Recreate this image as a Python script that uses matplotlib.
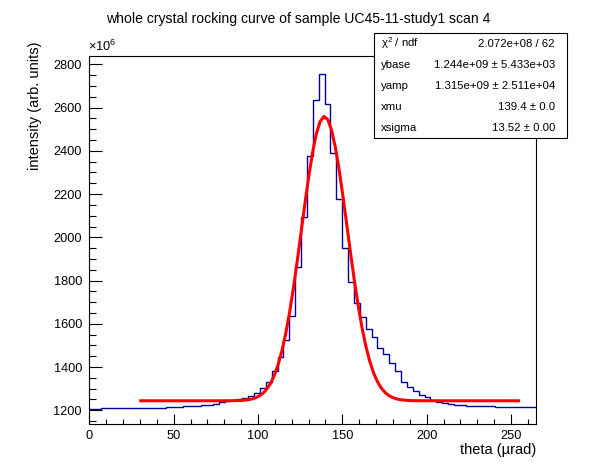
import numpy as np
import matplotlib
matplotlib.use("Agg")
import matplotlib.pyplot as plt
from matplotlib.patches import Rectangle

plt.rcParams['font.family'] = ['Liberation Sans', 'DejaVu Sans']
plt.rcParams['mathtext.fontset'] = 'custom'
plt.rcParams['mathtext.rm'] = 'Liberation Sans'

# histogram: 76 bins from 0 to ~265 urad, contents in units of 1e6
x_lo, x_hi, n_bins = 0.0, 265.0, 76
counts = [1206, 1206,
          1212, 1212, 1212, 1212, 1212, 1212, 1212, 1212, 1212, 1212, 1212,
          1217, 1217, 1217, 1221, 1221, 1221, 1226, 1226,
          1231, 1237, 1242, 1248, 1250, 1258, 1268, 1279, 1302, 1329,
          1380, 1445, 1524, 1637, 1861, 2093, 2375, 2637, 2754, 2617,
          2392, 2176, 1949, 1795, 1695, 1630, 1575, 1540, 1487, 1460,
          1417, 1380, 1332, 1308, 1288, 1269, 1260, 1248, 1238, 1232,
          1228, 1226, 1223,
          1219, 1219, 1219, 1219, 1219,
          1214, 1214, 1214, 1214, 1214, 1214, 1214]

# fit results (from the stats box)
ybase = 1.244e9
yamp = 1.315e9
xmu = 139.4
xsigma = 13.52
fit_lo, fit_hi = 30.5, 254.5

stat_names = [r'χ$^{2}$ / ndf', 'ybase', 'yamp', 'xmu', 'xsigma']
stat_values = ['2.072e+08 / 62', '1.244e+09 ± 5.433e+03',
               '1.315e+09 ± 2.511e+04', '139.4 ± 0.0', '13.52 ± 0.00']

W, H = 596, 472
def fx(px):
    return px / W
def fy(py):
    return 1 - py / H

fig = plt.figure(figsize=(W / 100, H / 100), dpi=100)
ax = fig.add_axes([fx(89.3), fy(424), fx(536.3) - fx(89.3), fy(55.7) - fy(424)])

edges = np.linspace(x_lo, x_hi, n_bins + 1)
ax.stairs(counts, edges, baseline=None, color='#000099', lw=1.0)

xf = np.linspace(fit_lo, fit_hi, 100)
yf = (ybase + yamp * np.exp(-0.5 * ((xf - xmu) / xsigma) ** 2)) / 1e6
ax.plot(xf, yf, color='#ff0000', lw=2.2)

ax.set_xlim(x_lo, x_hi)
ax.set_ylim(1136.6, 2840)
ax.set_xticks(np.arange(0, 251, 50))
ax.set_xticks(np.arange(0, 266, 10), minor=True)
ax.set_yticks(np.arange(1200, 2801, 200))
ax.set_yticks(np.arange(1150, 2840, 50), minor=True)
ax.tick_params(axis='both', which='both', direction='in', labelsize=9.2, width=0.8)
ax.tick_params(axis='x', which='major', length=7.2, pad=4.5)
ax.tick_params(axis='x', which='minor', length=3.6)
ax.tick_params(axis='y', which='major', length=9.7, pad=5.3)
ax.tick_params(axis='y', which='minor', length=4.8)
for s in ax.spines.values():
    s.set_linewidth(0.8)

fig.text(fx(298), fy(22.5), 'whole crystal rocking curve of sample UC45-11-study1 scan 4',
         ha='center', va='baseline', fontsize=10.1)
fig.text(fx(536.3), fy(450), 'theta (µrad)', ha='right', va='center', fontsize=10.5)
fig.text(fx(35), fy(42), 'intensity (arb. units)', ha='center', va='top',
         rotation=90, fontsize=10.5)
fig.text(fx(88), fy(51), r'×10$^{6}$', ha='left', va='baseline', fontsize=9.2)

# stats box
bx0, bx1, by0, by1 = 374, 566.7, 33, 138.3
fig.patches.append(Rectangle((fx(bx0), fy(by1)), fx(bx1) - fx(bx0), fy(by0) - fy(by1),
                             transform=fig.transFigure, facecolor='white',
                             edgecolor='black', lw=0.8, zorder=5))
row_h = (by1 - by0) / len(stat_names)
for i, (n, v) in enumerate(zip(stat_names, stat_values)):
    yc = by0 + row_h * (i + 0.5)
    fig.text(fx(381), fy(yc), n, ha='left', va='center', fontsize=8.2, zorder=6)
    fig.text(fx(555), fy(yc), v, ha='right', va='center', fontsize=8.2, zorder=6)

fig.savefig('out.png', dpi=100)
